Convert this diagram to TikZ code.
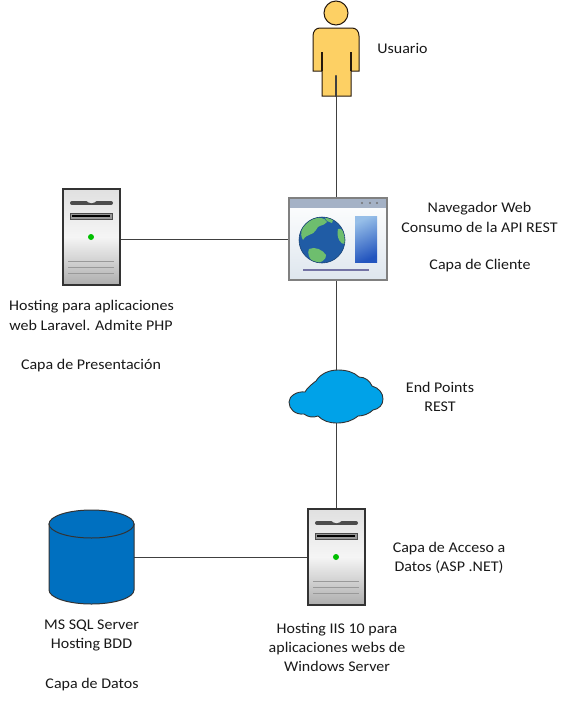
\documentclass[tikz,border=0pt]{standalone}
\usepackage{fontspec}
\setmainfont[FakeStretch=1.08]{Carlito}
\begin{document}
\begin{tikzpicture}[x=1pt,y=-1pt,
  lbl/.style={inner sep=0pt,align=center,font=\fontsize{14.8}{19.2}\selectfont,text=black!90},
  box/.style={inner sep=0pt,minimum width=#1},
  link/.style={draw=black!75,line width=1pt}]
\useasboundingbox (0,0) rectangle (567,702);
\fill[white] (0,0) rectangle (567,702);
% icon anchors
\node[box=46pt,minimum height=96pt] (user) at (336,48) {};
\node[box=98pt,minimum height=82pt] (win) at (338,239) {};
\node[box=57pt,minimum height=96pt] (srvA) at (91.5,237) {};
\node[box=94pt,minimum height=53pt] (cloud) at (336,396.5) {};
\node[box=57pt,minimum height=96pt] (srvB) at (336.5,557) {};
\node[box=85pt,minimum height=94pt] (db) at (91.5,557) {};
\coordinate (crotch) at (336,75);
\coordinate (winT) at (336,198);
\coordinate (winB) at (336,280);
% connectors
\draw[link] (crotch) -- (winT);
\draw[link] (winB) -- (cloud.north -| winB);
\draw[link] (cloud.south -| winB) -- (srvB.north -| winB);
\draw[link] (srvA.east |- win.west) -- (win.west);
\draw[link] (db.east) -- (db.east -| srvB.west);
% user
\definecolor{userfill}{RGB}{253,208,100}
\filldraw[fill=userfill,draw=black!80!brown,line width=1pt] (336,13) circle (12);
\filldraw[fill=userfill,draw=black!80!brown,line width=1pt]
  (320,28) -- (352,28) .. controls (356,28) and (359,31) .. (359,36) -- (359,71) -- (351,71) -- (351,52)
  -- (351,96) -- (322,96) -- (322,52) -- (322,71) -- (313,71) -- (313,36) .. controls (313,31) and (316,28) .. (320,28) -- cycle;
\draw[black!80!brown,line width=1.6pt] (322,52) -- (322,71);
\draw[black!80!brown,line width=1.6pt] (351,52) -- (351,71);
\draw[black!75,line width=2.4pt,line cap=round] (336,76) -- (336,96);
% window
\definecolor{winbar}{RGB}{165,178,198}
\definecolor{winbot}{RGB}{222,230,238}
\definecolor{globeblue}{RGB}{32,92,165}
\definecolor{landa}{RGB}{110,190,110}
\definecolor{paneltop}{RGB}{150,190,232}
\definecolor{panelbot}{RGB}{35,85,190}
\draw[draw=black!50,line width=1.6pt,top color=white,bottom color=winbot] (289,198) rectangle (387,280);
\fill[winbar] (290,199) rectangle (386,208);
\fill[black!55] (362,203) circle (1.1) (370,203) circle (1.1) (377,203) circle (1.1);
\begin{scope}
  \path[clip] (322,240) circle (23);
  \fill[globeblue] (299,217) rectangle (345,263);
  \fill[landa] (306,222) .. controls (316,215) and (326,218) .. (327,222) .. controls (323,227) and (318,224) .. (316,230) .. controls (313,236) and (307,233) .. (303,240) .. controls (299,233) and (302,226) .. (306,222) -- cycle;
  \fill[landa] (309,249) .. controls (315,246) and (323,250) .. (326,255) .. controls (327,259) and (320,264) .. (314,264) .. controls (309,258) and (307,253) .. (309,249) -- cycle;
  \fill[landa] (338,229) .. controls (342,227) and (346,233) .. (345,244) .. controls (341,245) and (336,238) .. (338,229) -- cycle;
  \fill[landa] (325,218) -- (334,217) -- (332,223) -- (327,221) -- cycle;
\end{scope}
\draw[globeblue!70!black,line width=.6pt] (322,240) circle (23);
\shade[top color=paneltop,bottom color=panelbot,shading angle=25] (355,216) rectangle (377,262);
\draw[blue!35!black!55,line width=2pt] (303,269.5) -- (369,269.5);
% servers
\foreach \dx/\dy in {0/0,245/320}{
\begin{scope}[shift={(\dx,\dy)}]
  \draw[draw=black!80,line width=1.1pt,top color=black!12,bottom color=black!32,middle color=black!4] (63,189) rectangle (120,285);
  \draw[black!70,line width=4pt,line cap=round] (72,203) -- (111,203);
  \fill[black!10] (86,200.5) .. controls (89,204) and (94,204) .. (97,200.5) -- cycle;
  \filldraw[fill=black!40,draw=black!70,line width=1pt] (70,213.5) rectangle (112,219);
  \draw[black,line width=1.6pt] (72,216) -- (110,216);
  \fill[green!75!black] (91,237) circle (3);
  \draw[black!40,line width=1pt] (68,261) -- (114,261) (68,267) -- (114,267) (68,273) -- (114,273);
\end{scope}}
% cloud
\definecolor{cloudfill}{RGB}{0,162,232}
\filldraw[fill=cloudfill,draw=black!80,line width=.9pt]
  (305,392) .. controls (307,388) and (312,384) .. (316,381)
  .. controls (321,373) and (330,370) .. (338,370)
  .. controls (346,370) and (354,372) .. (359,377)
  .. controls (365,377) and (370,381) .. (372,386)
  .. controls (379,388) and (383,393) .. (383,399)
  .. controls (383,405) and (379,409) .. (373,410)
  .. controls (369,414) and (363,416) .. (358,416)
  .. controls (352,421) and (345,423) .. (337,423)
  .. controls (329,423) and (323,421) .. (318,416)
  .. controls (313,418) and (308,417) .. (304,414)
  .. controls (295,415) and (289,409) .. (289,402)
  .. controls (289,396) and (297,391) .. (305,392) -- cycle;
% database
\definecolor{dbfill}{RGB}{0,112,192}
\filldraw[fill=dbfill,draw=black!80,line width=1pt] (49,524) -- (49,590) arc[start angle=180,end angle=0,x radius=42.5,y radius=14] -- (134,524) -- cycle;
\filldraw[fill=dbfill,draw=black!80,line width=1pt] (91.5,524) ellipse[x radius=42.5,y radius=14];
% labels
\node[lbl] (tUser) at (402.5,48.5) {Usuario};
\node[lbl] (tWin) at (479.5,208.5) {Navegador Web};
\node[lbl] (tWin2) at (479.5,227.5) {Consumo de la API REST};
\node[lbl] (tWin3) at (480,265.5) {Capa de Cliente};
\node[lbl] (tA1) at (91.5,306.5) {Hosting para aplicaciones};
\node[lbl] (tA2) at (91,325.5) {web Laravel. Admite PHP};
\node[lbl] (tA3) at (91,365.5) {Capa de Presentación};
\node[lbl] (tCl) at (440,397) {End Points\\REST};
\node[lbl] (tAcc) at (449,557.5) {Capa de Acceso a\\Datos (ASP .NET)};
\node[lbl] (tDb) at (91.5,635.5) {MS SQL Server\\Hosting BDD};
\node[lbl] (tDb3) at (92,684.5) {Capa de Datos};
\node[lbl] (tB) at (337,647.5) {Hosting IIS 10 para\\aplicaciones webs de\\Windows Server};
\end{tikzpicture}
\end{document}
